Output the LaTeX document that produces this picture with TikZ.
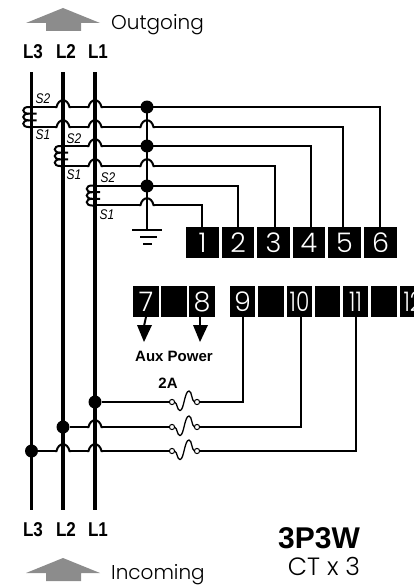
\documentclass[tikz,border=0pt]{standalone}
\usepackage{graphicx}
\usepackage{fontspec}
\setmainfont{Poppins Light}
\newfontfamily\lblfont{Liberation Sans}
\definecolor{arrowgray}{gray}{0.55}
\newcommand{\nar}[2]{\scalebox{#1}[1]{#2}}
\tikzset{
  wire/.style={line width=2pt,black},
  phase/.style={line width=3.6pt,black},
  dotn/.style={circle,fill=black,inner sep=0pt,minimum size=13pt},
  term/.style={fill=black,text=white,inner sep=0pt,anchor=center,font=\fontsize{27}{27}\selectfont},
  ptxt/.style={font=\lblfont\bfseries\fontsize{20}{20}\selectfont,inner sep=0pt},
  stxt/.style={font=\lblfont\itshape\fontsize{14}{14}\selectfont,inner sep=0pt},
  btxt/.style={font=\lblfont\bfseries\fontsize{15}{15}\selectfont,inner sep=0pt},
  dtxt/.style={font=\fontsize{20}{20}\selectfont,inner sep=0pt,anchor=base west},
  fuse/.pic={
    \draw[wire,line width=1.3pt] (-10,0) .. controls (-7,1) and (-7.5,8.5) .. (-4.5,8.5) .. controls (-0.5,8.5) and (0,-11) .. (4.5,-11) .. controls (7.5,-11) and (7,-1) .. (10,0);
    \draw[fill=white,line width=1pt] (-12.5,0) circle (2.6);
    \draw[fill=white,line width=1pt] (12.5,0) circle (2.6);
  },
  coil/.pic={
    \draw[wire] (5,-3.3) -- (-3,-3.3) .. controls (-10,-3.3) and (-10,-10) .. (-3,-10) -- (0,-10);
    \draw[wire] (5,3.3) -- (-3,3.3) .. controls (-10,3.3) and (-10,-3.3) .. (-3,-3.3);
    \draw[wire] (0,10) -- (-3,10) .. controls (-10,10) and (-10,3.3) .. (-3,3.3);
  }
}
\begin{document}
\begin{tikzpicture}[x=1pt,y=-1pt]
\useasboundingbox (0,0) rectangle (414,586);
% gray arrows
\fill[arrowgray] (63,8) -- (100,23) -- (81,23) -- (81,31) -- (46,31) -- (46,23) -- (26,23) -- cycle;
\fill[arrowgray] (63,558) -- (100,573) -- (81,573) -- (81,581) -- (46,581) -- (46,573) -- (26,573) -- cycle;
\node[dtxt] (out) at (111,30) {Outgoing};
\node[dtxt] (inc) at (111,579.5) {Incoming};
% phase labels
\foreach \n/\t/\x in {a/L3/33,b/L2/66,c/L1/98}{
  \node[ptxt] (top\n) at (\x,51.5) {\nar{.85}{\t}};
  \node[ptxt] (bot\n) at (\x,529.5) {\nar{.85}{\t}};
}
% phases
\coordinate (l3t) at (31.5,72); \coordinate (l3b) at (31.5,510);
\coordinate (l2t) at (63,72);   \coordinate (l2b) at (63,510);
\coordinate (l1t) at (95,72);   \coordinate (l1b) at (95,510);
\draw[phase] (l3t) -- (l3b);
\draw[phase] (l2t) -- (l2b);
\draw[phase] (l1t) -- (l1b);
% bus to ground
\coordinate (gnd) at (147,229.5);
\draw[wire] (147,107) -- (gnd);
\draw[wire] (132,229.5) -- (162,229.5);
\draw[wire] (140,237) -- (157,237);
\draw[wire] (143,244) -- (152,244);
% terminals top
\foreach \i/\a/\b in {1/186/219,2/222/254,3/257/290,4/293/325,5/328/361,6/364/397}{
  \fill[black] (\a,227) rectangle (\b,258);
  \node[term] (t\i) at ({(\a+\b)/2},242.5) {\i};
}
\begin{scope}
\clip (0,0) rectangle (414,586);
\foreach \n/\a/\b/\s in {7/133/159/7,x/161/187/{},8/189/215/8,9/230/255/9,y/258/284/{},10/287/312/\nar{.8}{10},z/315/340/{},11/343/368/\nar{.8}{11},w/371/397/{},12/400/426/\nar{.8}{12}}{
  \fill[black] (\a,286) rectangle (\b,317);
  \node[term] (t\n) at ({(\a+\b)/2},301.5) {\s};
}
\end{scope}
% CT wires
\draw[wire] (31.5,107) -- (380,107) -- (380,227);
\draw[wire] (31.5,127) -- (343,127) -- (343,227);
\draw[wire] (63,146) -- (311,146) -- (311,227);
\draw[wire] (63,166) -- (275,166) -- (275,227);
\draw[wire] (95,186) -- (238,186) -- (238,227);
\draw[wire] (95,205) -- (202,205) -- (202,227);
% dots for fuse taps
\node[dotn] (d4) at (95,402) {};
\node[dotn] (d5) at (63,427) {};
\node[dotn] (d6) at (31.5,451) {};
% fuse wires
\draw[wire] (d4) -- (172,402);
\draw[wire] (197,402) -- (243,402) -- (243,317);
\draw[wire] (d5) -- (172,427);
\draw[wire] (197,427) -- (301,427) -- (301,317);
\draw[wire] (d6) -- (172,451);
\draw[wire] (197,451) -- (356,451) -- (356,317);
\pic at (184.5,402) {fuse};
\pic at (184.5,427) {fuse};
\pic at (184.5,451) {fuse};
% jumps over phases
\foreach \x/\y/\w in {63/107/3.6,95/107/3.6,63/127/3.6,95/127/3.6,147/127/2,95/146/3.6,95/166/3.6,147/166/2,147/205/2,95/427/3.6,95/451/3.6,63/451/3.6}{
  \fill[white] (\x-6.5,\y-1.5) rectangle (\x+6.5,\y+1.5);
  \draw[line width=\w pt] (\x,\y-2) -- (\x,\y+2);
  \draw[wire] (\x-8,\y) -- (\x-6.5,\y) .. controls (\x-4.5,\y-9) and (\x+4.5,\y-9) .. (\x+6.5,\y) -- (\x+8,\y);
}
% coils
\pic at (31.5,117) {coil};
\pic at (63,156) {coil};
\pic at (95,195.5) {coil};
% S labels
\node[stxt] (s1) at (43,99) {\nar{.85}{S2}};
\node[stxt] (s2) at (43,135) {\nar{.85}{S1}};
\node[stxt] (s3) at (74,139) {\nar{.85}{S2}};
\node[stxt] (s4) at (74,175) {\nar{.85}{S1}};
\node[stxt] (s5) at (108,178) {\nar{.85}{S2}};
\node[stxt] (s6) at (107,215) {\nar{.85}{S1}};
% dots on bus
\node[dotn] (d1) at (147,107) {};
\node[dotn] (d2) at (147,146) {};
\node[dotn] (d3) at (147,186) {};
% aux arrows
\coordinate (a7) at (144,342); \coordinate (a8) at (200,342);
\draw[wire] (t7.center |- 0,317) -- (144,326);
\draw[wire] (200,317) -- (200,326);
\fill (137,325) -- (152,325) -- (a7) -- cycle;
\fill (193,325) -- (208,325) -- (a8) -- cycle;
\node[btxt] (aux) at (174,356) {Aux Power};
\node[btxt] (ta) at (168,383) {2A};
% title
\node[font=\lblfont\bfseries\fontsize{30}{30}\selectfont,inner sep=0pt] (tt) at (319,538) {3P3W};
\node[font=\fontsize{25}{25}\selectfont,inner sep=0pt] (ct) at (324,566) {CT x 3};
\end{tikzpicture}
\end{document}
